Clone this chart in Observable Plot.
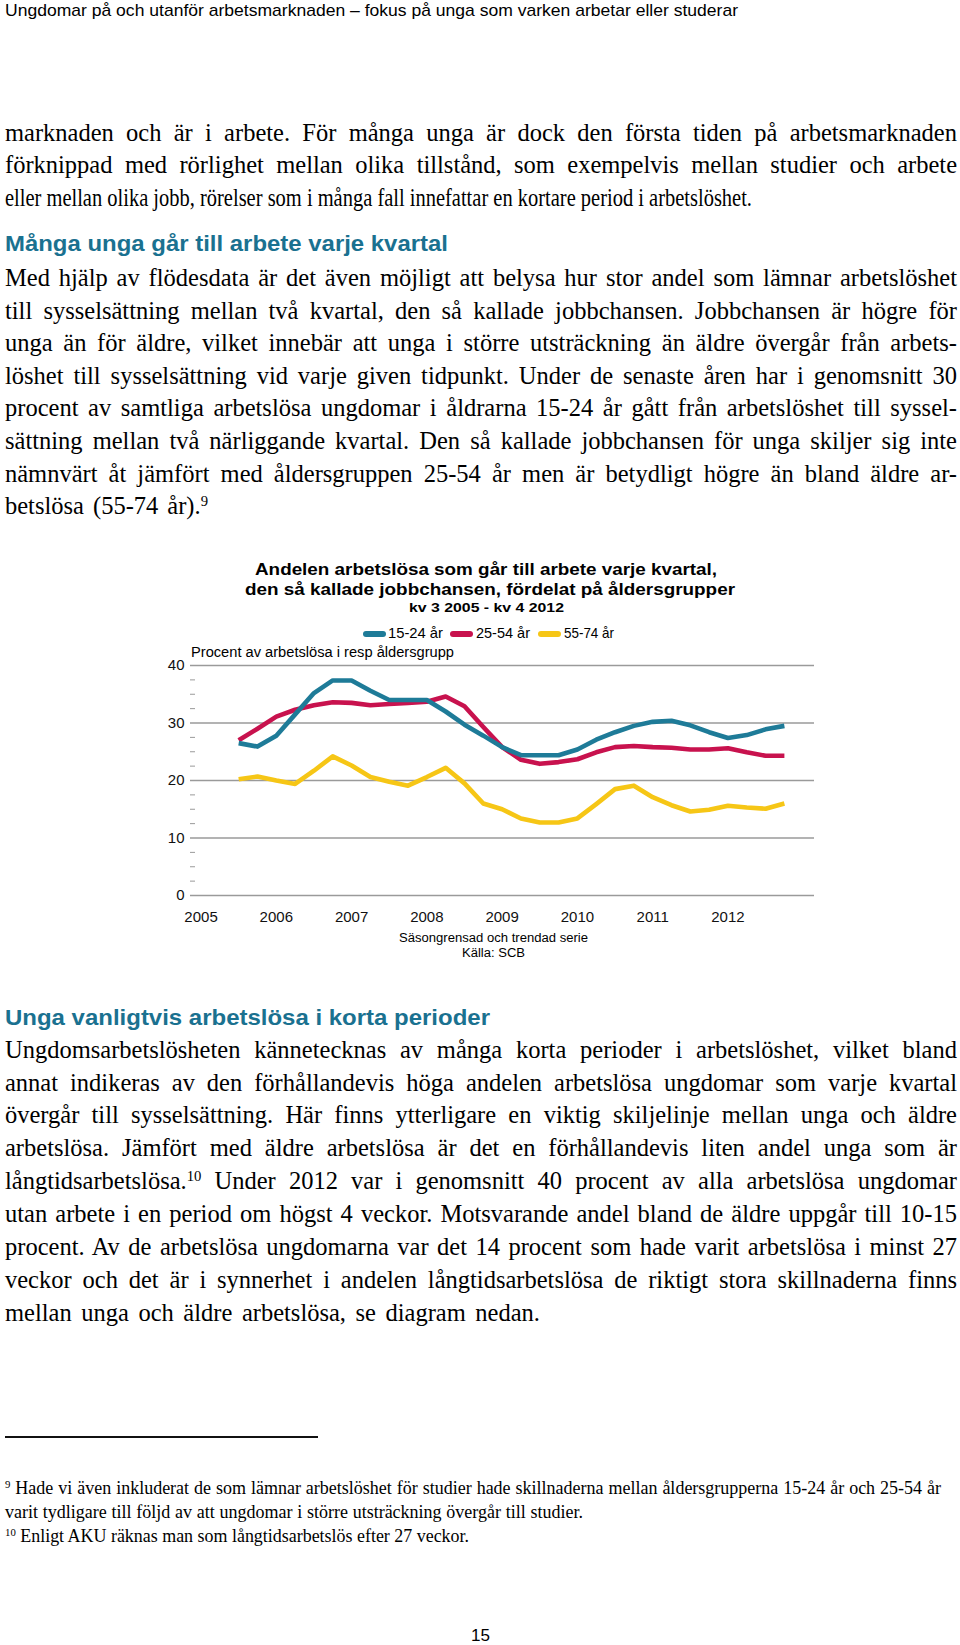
<!DOCTYPE html>
<html>
<head>
<meta charset="utf-8">
<script src="https://cdn.jsdelivr.net/npm/d3@7"></script>
<script src="https://cdn.jsdelivr.net/npm/@observablehq/plot@0.6"></script>
<style>
  html, body { margin: 0; padding: 0; background: #fff; }
  #page { position: relative; width: 960px; height: 1645px; overflow: hidden; }
  .ln { position: absolute; white-space: nowrap; color: #000; }
  .ln > span { display: inline-block; white-space: nowrap; transform-origin: 0 50%; }
  .serif { font-family: "Liberation Serif", "Times New Roman", serif; }
  .sans { font-family: "Liberation Sans", Arial, sans-serif; }
  sup { font-size: 0.6em; vertical-align: 0.55em; line-height: 0; }
  #chart { position: absolute; left: 0; top: 640px; }
  .sw { position: absolute; height: 6px; border-radius: 3px; }
</style>
</head>
<body>
<div id="page"></div>
<script>
// ---------------- chart data ----------------
const quarters = [
  "2005 kv3","2005 kv4",
  "2006 kv1","2006 kv2","2006 kv3","2006 kv4",
  "2007 kv1","2007 kv2","2007 kv3","2007 kv4",
  "2008 kv1","2008 kv2","2008 kv3","2008 kv4",
  "2009 kv1","2009 kv2","2009 kv3","2009 kv4",
  "2010 kv1","2010 kv2","2010 kv3","2010 kv4",
  "2011 kv1","2011 kv2","2011 kv3","2011 kv4",
  "2012 kv1","2012 kv2","2012 kv3","2012 kv4"
];
const age15_24 = [26.5, 25.9, 27.8, 31.5, 35.2, 37.4, 37.4, 35.6, 34.0, 34.0, 34.0, 32.0, 29.7, 27.8, 25.8,
                  24.4, 24.4, 24.4, 25.4, 27.1, 28.4, 29.5, 30.2, 30.4, 29.6, 28.4, 27.4, 27.9, 28.9, 29.5];
const age25_54 = [27.0, 29.0, 31.1, 32.3, 33.1, 33.6, 33.5, 33.1, 33.3, 33.5, 33.7, 34.6, 32.9, 29.3, 25.8,
                  23.6, 22.9, 23.2, 23.7, 24.9, 25.8, 26.0, 25.8, 25.7, 25.4, 25.4, 25.6, 24.9, 24.3, 24.3];
const age55_74 = [20.2, 20.7, 20.0, 19.4, 21.7, 24.2, 22.6, 20.6, 19.8, 19.1, 20.6, 22.2, 19.5, 16.0, 15.0,
                  13.4, 12.7, 12.7, 13.4, 15.9, 18.5, 19.1, 17.1, 15.7, 14.6, 14.9, 15.6, 15.3, 15.1, 16.0];
const seriesNames = ["15-24 år", "25-54 år", "55-74 år"];
const seriesColors = ["#1e7b98", "#c8124e", "#f6c616"];
const yTicks = [0, 10, 20, 30, 40];
const yMinorTicks = [2.5, 5, 7.5, 12.5, 15, 17.5, 22.5, 25, 27.5, 32.5, 35, 37.5];
const xTicks = [2005, 2006, 2007, 2008, 2009, 2010, 2011, 2012];

const chartTitle = ["Andelen arbetslösa som går till arbete varje kvartal,",
                    "den så kallade jobbchansen, fördelat på åldersgrupper"];
const chartSubtitle = "kv 3 2005 - kv 4 2012";
const yLabel = "Procent av arbetslösa i resp åldersgrupp";
const captionLines = ["Säsongrensad och trendad serie", "Källa: SCB"];

// ---------------- page text ----------------
const page = document.getElementById("page");
function addLine(html, x, yc, w, cls, fs, mode, opts = {}) {
  const lh = opts.lh || Math.round(fs * 1.3);
  const d = document.createElement("div");
  d.className = "ln " + cls;
  d.style.left = x + "px";
  d.style.fontSize = fs + "px";
  d.style.lineHeight = lh + "px";
  const off = cls === "serif" ? 0.1 * fs : 0.05 * fs;
  d.style.top = (yc - lh / 2 - off) + "px";
  if (opts.color) d.style.color = opts.color;
  if (opts.bold) d.style.fontWeight = "bold";
  const s = document.createElement("span");
  s.innerHTML = html;
  d.appendChild(s);
  page.appendChild(d);
  if (w) {
    const nat = s.getBoundingClientRect().width;
    const spaces = (s.textContent.match(/ /g) || []).length;
    if (mode === "j" && nat < w && spaces) {
      s.style.wordSpacing = ((w - nat) / spaces) + "px";
    } else {
      s.style.transform = `scaleX(${w / nat})`;
    }
  }
  return d;
}
const FS = 24.5;
const TW = 952;
// running header
addLine("Ungdomar på och utanför arbetsmarknaden – fokus på unga som varken arbetar eller studerar", 5, 12, 733, "sans", 17, "s");

const p1 = [
  "marknaden och är i arbete. För många unga är dock den första tiden på arbetsmarknaden",
  "förknippad med rörlighet mellan olika tillstånd, som exempelvis mellan studier och arbete",
  "eller mellan olika jobb, rörelser som i många fall innefattar en kortare period i arbetslöshet."
];
const p1W = [TW, TW, 747];
p1.forEach((t, i) => addLine(t, 5, 135 + i * 32.5, p1W[i], "serif", FS, "j"));

addLine("Många unga går till arbete varje kvartal", 5, 245, 443, "sans", 22.5, "s", { bold: true, color: "#1a7190" });

const p2 = [
  "Med hjälp av flödesdata är det även möjligt att belysa hur stor andel som lämnar arbetslöshet",
  "till sysselsättning mellan två kvartal, den så kallade jobbchansen. Jobbchansen är högre för",
  "unga än för äldre, vilket innebär att unga i större utsträckning än äldre övergår från arbets-",
  "löshet till sysselsättning vid varje given tidpunkt. Under de senaste åren har i genomsnitt 30",
  "procent av samtliga arbetslösa ungdomar i åldrarna 15-24 år gått från arbetslöshet till syssel-",
  "sättning mellan två närliggande kvartal. Den så kallade jobbchansen för unga skiljer sig inte",
  "nämnvärt åt jämfört med åldersgruppen 25-54 år men är betydligt högre än bland äldre ar-",
  "betslösa (55-74 år).<sup>9</sup>"
];
p2.forEach((t, i) => addLine(t, 5, 280.5 + i * 32.6, i === p2.length - 1 ? 203 : TW, "serif", FS, "j"));

addLine("Unga vanligtvis arbetslösa i korta perioder", 5, 1019, 485, "sans", 22.5, "s", { bold: true, color: "#1a7190" });

const p3 = [
  "Ungdomsarbetslösheten kännetecknas av många korta perioder i arbetslöshet, vilket bland",
  "annat indikeras av den förhållandevis höga andelen arbetslösa ungdomar som varje kvartal",
  "övergår till sysselsättning. Här finns ytterligare en viktig skiljelinje mellan unga och äldre",
  "arbetslösa. Jämfört med äldre arbetslösa är det en förhållandevis liten andel unga som är",
  "långtidsarbetslösa.<sup>10</sup> Under 2012 var i genomsnitt 40 procent av alla arbetslösa ungdomar",
  "utan arbete i en period om högst 4 veckor. Motsvarande andel bland de äldre uppgår till 10-15",
  "procent. Av de arbetslösa ungdomarna var det 14 procent som hade varit arbetslösa i minst 27",
  "veckor och det är i synnerhet i andelen långtidsarbetslösa de riktigt stora skillnaderna finns",
  "mellan unga och äldre arbetslösa, se diagram nedan."
];
p3.forEach((t, i) => addLine(t, 5, 1052 + i * 32.95, i === p3.length - 1 ? 535 : TW, "serif", FS, "j"));

// footnote rule
const rule = document.createElement("div");
rule.style.cssText = "position:absolute;left:5px;top:1436px;width:313px;height:1.5px;background:#111;";
page.appendChild(rule);

const fn = [
  ["<sup>9</sup> Hade vi även inkluderat de som lämnar arbetslöshet för studier hade skillnaderna mellan åldersgrupperna 15-24 år och 25-54 år", 936],
  ["varit tydligare till följd av att ungdomar i större utsträckning övergår till studier.", 578],
  ["<sup>10</sup> Enligt AKU räknas man som långtidsarbetslös efter 27 veckor.", 464]
];
fn.forEach((f, i) => addLine(f[0], 5, 1490 + i * 24.3, f[1], "serif", 18, "j"));

addLine("15", 471, 1637, 19, "sans", 17, "s");

// chart texts
addLine(chartTitle[0], 255, 570, 462, "sans", 16, "s", { bold: true });
addLine(chartTitle[1], 245, 590, 490, "sans", 16, "s", { bold: true });
addLine(chartSubtitle, 409, 609, 155, "sans", 13.5, "s", { bold: true });
addLine(yLabel, 191, 653, 263, "sans", 14, "s");
addLine(captionLines[0], 399, 939, 189, "sans", 12.5, "s");
addLine(captionLines[1], 462, 954, 63, "sans", 12.5, "s");

// legend
const legendItems = [
  { sw: 363, tx: 388, w: 55 },
  { sw: 450, tx: 476, w: 54 },
  { sw: 538, tx: 564, w: 50 }
];
seriesNames.forEach((n, i) => {
  const it = legendItems[i];
  const sw = document.createElement("div");
  sw.className = "sw";
  sw.style.left = it.sw + "px";
  sw.style.top = (634 - 3) + "px";
  sw.style.width = "23px";
  sw.style.background = seriesColors[i];
  page.appendChild(sw);
  addLine(n, it.tx, 634, it.w, "sans", 14.5, "s");
});

// ---------------- the plot ----------------
const tOf = q => +q.slice(0, 4) + (+q.slice(-1) - 1) / 4;
const seriesValues = [age15_24, age25_54, age55_74];
const rows = seriesNames.flatMap((s, k) =>
  quarters.map((q, i) => ({ series: s, t: tOf(q), v: seriesValues[k][i] })));

const drawOrder = [2, 1, 0];
const chart = Plot.plot({
  width: 960,
  height: 290,
  marginLeft: 190,
  marginRight: 146,
  marginTop: 25,
  marginBottom: 35,
  style: { fontFamily: "'Liberation Sans', Arial, sans-serif", fontSize: "15px", color: "#111", background: "transparent" },
  x: { domain: [2004.86, 2013.15], label: null },
  y: { domain: [0, 40], label: null },
  marks: [
    Plot.ruleY(yTicks, { stroke: "#9a9a9a", strokeWidth: 1.4 }),
    Plot.axisY({ ticks: yMinorTicks, tickSize: 5, dx: 5, tickFormat: () => "", stroke: "#9a9a9a", label: null }),
    Plot.axisY({ ticks: yTicks, tickSize: 0, tickPadding: 6, tickFormat: d => String(d), label: null, fontSize: 15 }),
    Plot.axisX({ ticks: xTicks, tickSize: 0, tickPadding: 16, tickFormat: d => String(d), label: null, fontSize: 15 }),
    ...drawOrder.map(k => Plot.line(rows.filter(r => r.series === seriesNames[k]), {
      x: "t", y: "v", stroke: seriesColors[k], strokeWidth: 4.6,
      strokeLinejoin: "round", strokeLinecap: "butt"
    }))
  ]
});
chart.id = "chart";
page.appendChild(chart);
</script>
</body>
</html>
